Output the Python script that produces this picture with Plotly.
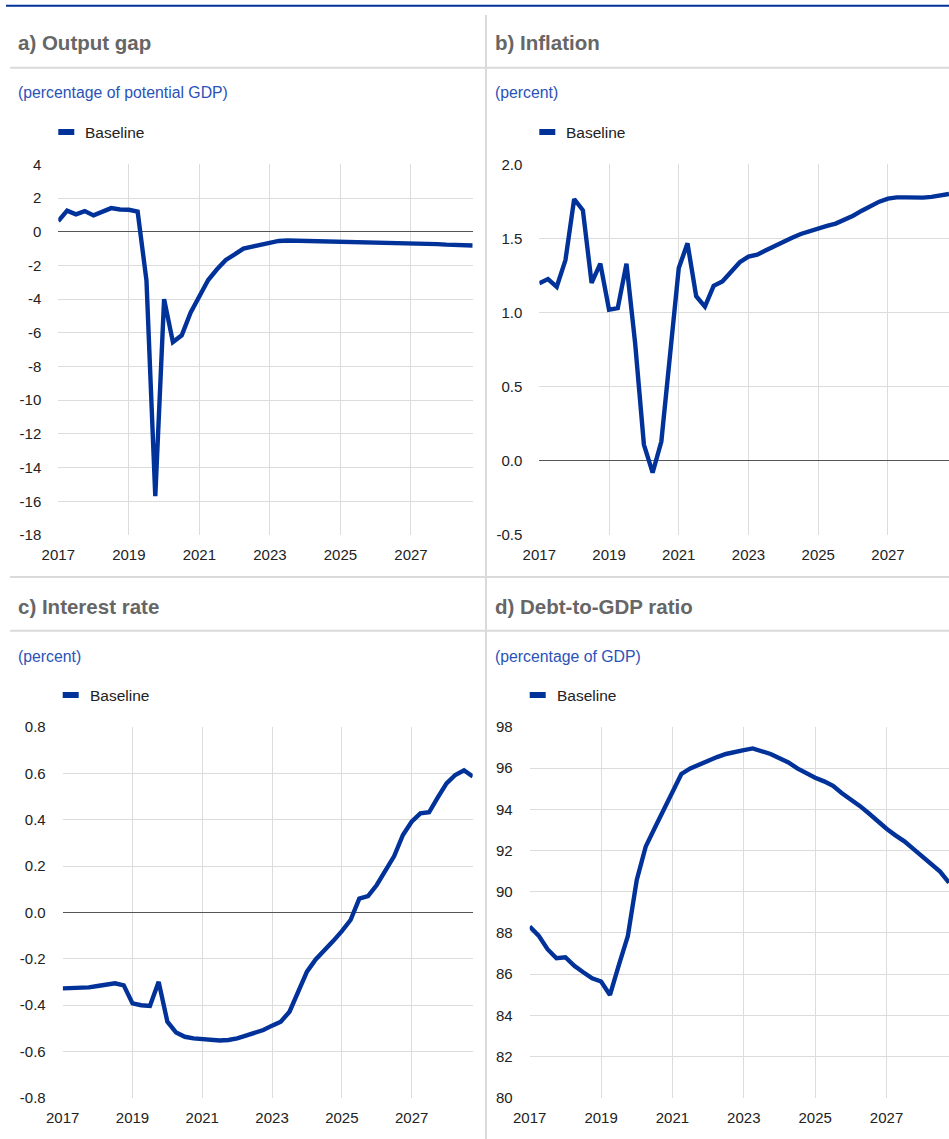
import plotly.graph_objects as go

W, H = 949, 1139

# ---------------- data (quarterly, 2017Q1 - 2028Q4) ----------------
years = list(range(2017, 2029))
quarters = [f"{y}Q{q}" for y in years for q in range(1, 5)]

output_gap = [0.63, 1.25, 1.03, 1.22, 0.97, 1.17, 1.40, 1.32,
              1.30, 1.19, -2.90, -15.70, -4.00, -6.55, -6.15, -4.80,
              -3.80, -2.87, -2.23, -1.68, -1.35, -1.00, -0.88, -0.78,
              -0.65, -0.55, -0.52, -0.53, -0.55, -0.56, -0.56, -0.56,
              -0.57, -0.58, -0.60, -0.62, -0.64, -0.65, -0.66, -0.67,
              -0.68, -0.70, -0.72, -0.74, -0.77, -0.78, -0.80, -0.82]

inflation = [1.197, 1.226, 1.174, 1.354, 1.766, 1.690, 1.200, 1.330,
             1.020, 1.030, 1.330, 0.790, 0.110, -0.080, 0.130, 0.700,
             1.300, 1.467, 1.110, 1.040, 1.180, 1.210, 1.270, 1.340,
             1.377, 1.390, 1.420, 1.450, 1.480, 1.505, 1.530, 1.550,
             1.566, 1.584, 1.600, 1.624, 1.653, 1.687, 1.720, 1.748,
             1.768, 1.777, 1.777, 1.775, 1.775, 1.780, 1.790, 1.800]

interest_rate = [-0.328, -0.327, -0.327, -0.324, -0.318, -0.314, -0.306, -0.315,
                 -0.393, -0.401, -0.404, -0.300, -0.472, -0.519, -0.537, -0.544,
                 -0.548, -0.553, -0.553, -0.551, -0.544, -0.532, -0.522, -0.508,
                 -0.489, -0.472, -0.429, -0.342, -0.256, -0.203, -0.165, -0.124,
                 -0.081, -0.033, 0.059, 0.070, 0.118, 0.178, 0.243, 0.334,
                 0.391, 0.427, 0.432, 0.496, 0.557, 0.593, 0.613, 0.586]

debt_to_gdp = [88.31, 87.87, 87.21, 86.77, 86.82, 86.40, 86.09, 85.80,
               85.64, 84.99, 86.45, 87.85, 90.57, 92.19, 93.08, 94.00,
               94.86, 95.72, 95.99, 96.19, 96.38, 96.54, 96.69, 96.80,
               96.88, 96.96, 96.83, 96.69, 96.48, 96.28, 95.99, 95.75,
               95.54, 95.36, 95.14, 94.78, 94.49, 94.17, 93.81, 93.40,
               93.06, 92.74, 92.45, 92.08, 91.71, 91.35, 90.98, 90.44]

x_tick_vals = [2017, 2019, 2021, 2023, 2025, 2027]
x_tick_text = ["2017", "2019", "2021", "2023", "2025", "2027"]

a_ticks = [4, 2, 0, -2, -4, -6, -8, -10, -12, -14, -16, -18]
a_text = ["4", "2", "0", "-2", "-4", "-6", "-8", "-10", "-12", "-14", "-16", "-18"]
b_ticks = [2.0, 1.5, 1.0, 0.5, 0.0, -0.5]
b_text = ["2.0", "1.5", "1.0", "0.5", "0.0", "-0.5"]
c_ticks = [0.8, 0.6, 0.4, 0.2, 0.0, -0.2, -0.4, -0.6, -0.8]
c_text = ["0.8", "0.6", "0.4", "0.2", "0.0", "-0.2", "-0.4", "-0.6", "-0.8"]
d_ticks = [98, 96, 94, 92, 90, 88, 86, 84, 82, 80]
d_text = ["98", "96", "94", "92", "90", "88", "86", "84", "82", "80"]

titles = ["a) Output gap", "b) Inflation", "c) Interest rate", "d) Debt-to-GDP ratio"]
subtitles = ["(percentage of potential GDP)", "(percent)", "(percent)", "(percentage of GDP)"]
legend_label = "Baseline"

# ---------------- styling ----------------
BLUE = "#003299"
GRID = "#dcdcdc"
SEP = "#dadada"
TITLE_C = "#666666"
SUB_C = "#2a52b8"
TICK_C = "#222222"
FONT = "Arial, Liberation Sans, Arimo, sans-serif"

x_num = [int(q[:4]) + (int(q[-1]) - 1) / 4 for q in quarters]


def px(v):
    return v / W


def py(v):
    return 1 - v / H


panels = [
    (output_gap, a_ticks, a_text, [-18, 4], 58.3, 472.7, 164.3, 535.0, 16, 43, 92.7, 132, 58.3),
    (inflation, b_ticks, b_text, [-0.5, 2.0], 539.3, 949.0, 164.3, 535.0, 493, 43, 92.7, 132, 539.3),
    (interest_rate, c_ticks, c_text, [-0.8, 0.8], 62.7, 472.7, 727.0, 1097.7, 16, 606, 656.7, 695, 62.7),
    (debt_to_gdp, d_ticks, d_text, [80, 98], 529.7, 949.0, 727.0, 1097.7, 493, 606, 656.7, 695, 529.7),
]

fig = go.Figure()
shapes = []
annotations = []

for i, (ser, tv, tt, yr, x0, x1, yt, yb, tx, ty, sy, ly, lx) in enumerate(panels):
    n = "" if i == 0 else str(i + 1)
    fig.add_trace(go.Scatter(
        x=x_num, y=ser, mode="lines", name=legend_label,
        line=dict(color=BLUE, width=4.4), showlegend=False,
        xaxis="x" + n, yaxis="y" + n,
    ))
    fig.update_layout(**{
        "xaxis" + n: dict(
            domain=[px(x0), px(x1)], anchor="y" + n, range=[2017, 2028.75],
            tickvals=x_tick_vals, ticktext=x_tick_text,
            showgrid=True, gridcolor=GRID, gridwidth=1,
            zeroline=False, showline=False, automargin=False,
            ticks="outside", ticklen=6, tickcolor="rgba(0,0,0,0)",
            tickfont=dict(size=15, color=TICK_C, family=FONT),
            fixedrange=True,
        ),
        "yaxis" + n: dict(
            domain=[py(yb), py(yt)], anchor="x" + n, range=yr,
            tickvals=tv, ticktext=tt,
            showgrid=True, gridcolor=GRID, gridwidth=1,
            zeroline=(yr[0] < 0 < yr[1]), zerolinecolor="#555555", zerolinewidth=1,
            showline=False, automargin=False,
            ticks="outside", ticklen=13, tickcolor="rgba(0,0,0,0)",
            tickfont=dict(size=15, color=TICK_C, family=FONT),
            fixedrange=True,
        ),
    })
    annotations.append(dict(
        text=f"<b>{titles[i]}</b>", x=px(tx), y=py(ty), xref="paper", yref="paper",
        xanchor="left", yanchor="middle", showarrow=False,
        font=dict(size=20.5, color=TITLE_C, family=FONT),
    ))
    annotations.append(dict(
        text=subtitles[i], x=px(tx), y=py(sy), xref="paper", yref="paper",
        xanchor="left", yanchor="middle", showarrow=False,
        font=dict(size=15.8, color=SUB_C, family=FONT),
    ))
    annotations.append(dict(
        text=legend_label, x=px(lx + 25), y=py(ly), xref="paper", yref="paper",
        xanchor="left", yanchor="middle", showarrow=False,
        font=dict(size=15.5, color=TICK_C, family=FONT),
    ))
    shapes.append(dict(
        type="rect", xref="paper", yref="paper",
        x0=px(lx), x1=px(lx + 16), y0=py(ly + 3), y1=py(ly - 3),
        fillcolor=BLUE, line=dict(width=0),
    ))

shapes.append(dict(type="line", xref="paper", yref="paper",
                   x0=px(6), x1=1, y0=py(5.7), y1=py(5.7),
                   line=dict(color=BLUE, width=2)))
for yy in [67.7, 576.9, 630.7]:
    shapes.append(dict(type="line", xref="paper", yref="paper",
                       x0=px(10), x1=1, y0=py(yy), y1=py(yy),
                       line=dict(color=SEP, width=2)))
shapes.append(dict(type="line", xref="paper", yref="paper",
                   x0=px(486), x1=px(486), y0=py(15), y1=0,
                   line=dict(color=SEP, width=2)))

fig.update_layout(
    width=W, height=H, autosize=False,
    margin=dict(l=0, r=0, t=0, b=0, pad=0),
    paper_bgcolor="white", plot_bgcolor="white",
    font=dict(family=FONT, color=TICK_C),
    shapes=shapes, annotations=annotations,
    showlegend=False,
)

fig.write_html("out.html", config={"displayModeBar": False, "responsive": False},
               post_script="document.body.style.margin='0px';document.body.style.padding='0px';")
